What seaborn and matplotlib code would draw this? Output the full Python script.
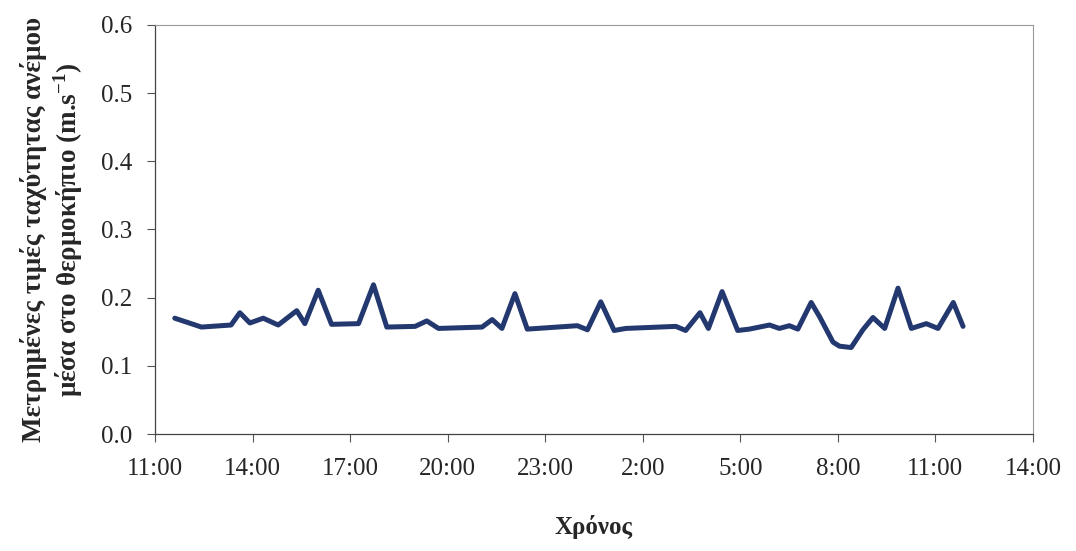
import matplotlib
matplotlib.use("Agg")
import matplotlib.pyplot as plt
import seaborn as sns
import pandas as pd

# Hours elapsed since 11:00 (day 1)
hours = [0.61, 1.43, 2.34, 2.61, 2.92, 3.33, 3.79, 4.36, 4.61, 5.02, 5.43, 6.26,
         6.72, 7.13, 8.00, 8.36, 8.72, 10.06, 10.37, 10.67, 11.07, 11.45, 12.99,
         13.30, 13.71, 14.12, 14.48, 16.02, 16.32, 16.76, 17.02, 17.44, 17.92,
         18.28, 18.90, 19.20, 19.51, 19.77, 20.18, 20.44, 20.85, 21.05, 21.41,
         21.77, 22.08, 22.44, 22.85, 23.26, 23.72, 24.08, 24.55, 24.85]
speed = [0.170, 0.157, 0.160, 0.178, 0.163, 0.170, 0.160, 0.181, 0.162, 0.211,
         0.161, 0.162, 0.219, 0.157, 0.158, 0.166, 0.155, 0.157, 0.168, 0.155,
         0.206, 0.154, 0.159, 0.153, 0.194, 0.152, 0.155, 0.158, 0.152, 0.178,
         0.155, 0.209, 0.152, 0.154, 0.160, 0.155, 0.159, 0.154, 0.193, 0.172,
         0.135, 0.129, 0.127, 0.153, 0.171, 0.155, 0.214, 0.155, 0.162, 0.155,
         0.193, 0.158]
tick_labels = ["11:00", "14:00", "17:00", "20:00", "23:00", "2:00", "5:00",
               "8:00", "11:00", "14:00"]
y_ticks = [0.0, 0.1, 0.2, 0.3, 0.4, 0.5, 0.6]

sns.set_theme(style="white")
plt.rcParams['font.family'] = ['Liberation Serif', 'DejaVu Serif']
plt.rcParams['mathtext.fontset'] = 'custom'
plt.rcParams['mathtext.rm'] = 'Liberation Serif'
plt.rcParams['mathtext.bf'] = 'Liberation Serif:bold'

df = pd.DataFrame({"h": hours, "v": speed})

fig = plt.figure(figsize=(10.76, 5.51), dpi=100)
ax = fig.add_axes([0.144, 0.212, 0.816, 0.743])
sns.lineplot(data=df, x="h", y="v", ax=ax, color="#22386f", linewidth=3.6,
             solid_joinstyle="round", solid_capstyle="round")

ax.set_xlim(0, 27)
ax.set_ylim(0, 0.6)
ax.set_xticks([3 * i for i in range(len(tick_labels))])
ax.set_xticklabels(tick_labels)
ax.set_yticks(y_ticks)
ax.set_yticklabels([f"{t:.1f}" for t in y_ticks])
ax.tick_params(axis="both", labelsize=18, direction="out", length=6, width=0.8,
               color="#555555", bottom=True, left=True)
ax.tick_params(axis="x", pad=11)
ax.tick_params(axis="y", pad=10)
for s in ["left", "bottom"]:
    ax.spines[s].set_color("#444444")
    ax.spines[s].set_linewidth(0.9)
for s in ["top", "right"]:
    ax.spines[s].set_color("#999999")
    ax.spines[s].set_linewidth(0.8)

ax.set_xlabel("Χρόνος", fontsize=18, fontweight="bold", labelpad=25)
ax.set_ylabel("Μετρημένες τιμές ταχύτητας ανέμου\nμέσα στο θερμοκήπιο (m.s$^{\\mathbf{-1}}$)",
              fontsize=19.5, fontweight="bold", labelpad=12, linespacing=1.15)

fig.savefig("out.png", dpi=100, facecolor="white")
